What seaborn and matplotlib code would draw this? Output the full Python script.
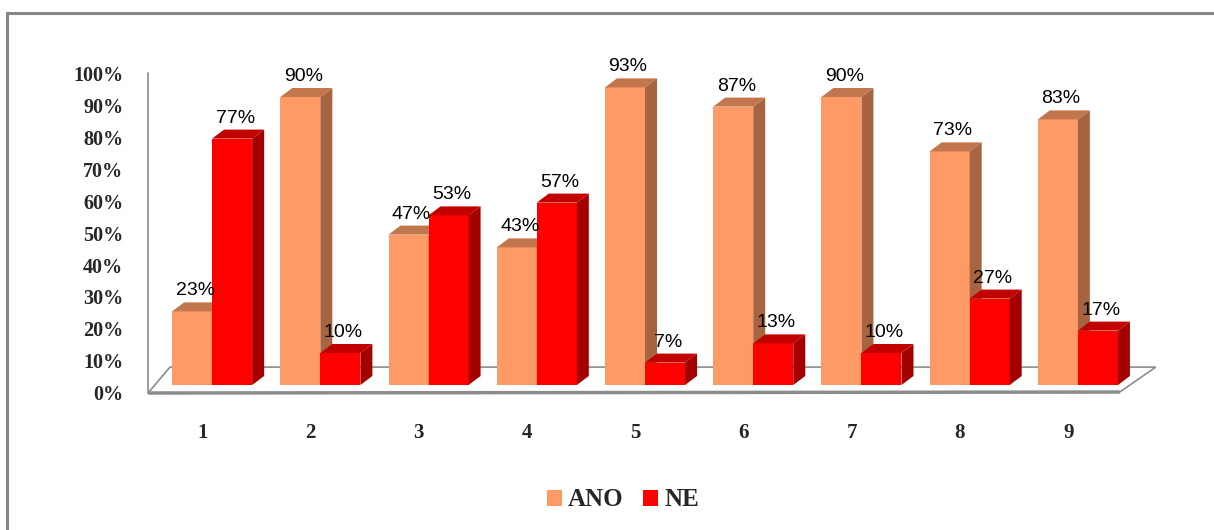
import pandas as pd
import numpy as np
import matplotlib.pyplot as plt
import seaborn as sns
from matplotlib.patches import Polygon, Patch
from matplotlib.lines import Line2D

# Chart data
categories = ['1', '2', '3', '4', '5', '6', '7', '8', '9']
ano = [0.23, 0.90, 0.47, 0.43, 0.93, 0.87, 0.90, 0.73, 0.83]
ne = [0.77, 0.10, 0.53, 0.57, 0.07, 0.13, 0.10, 0.27, 0.17]
series = ['ANO', 'NE']
ytick_labels = ['0%', '10%', '20%', '30%', '40%', '50%', '60%', '70%', '80%', '90%', '100%']

# colours: front, side, top
front = {'ANO': '#FF9966', 'NE': '#FF0000'}
side = {'ANO': '#A66540', 'NE': '#A50000'}
top = {'ANO': '#C2764E', 'NE': '#C20000'}

sns.set_theme(style="white")
plt.rcParams['font.family'] = ['Liberation Serif', 'DejaVu Serif']

df = pd.DataFrame({
    'cat': categories * 2,
    'val': ano + ne,
    'grp': ['ANO'] * len(categories) + ['NE'] * len(categories),
})

W, H = 1214, 530
fig = plt.figure(figsize=(W / 100, H / 100), dpi=100)
ax = fig.add_axes([158 / W, 113 / H, 974 / W, 368 / H])

sns.barplot(data=df, x='cat', y='val', hue='grp', order=categories,
            hue_order=series, palette=[front[s] for s in series],
            width=0.74, gap=0, saturation=1, legend=False, ax=ax)

ax.set_xlim(-0.5, 8.5)
ax.set_ylim(-0.1, 1.05)
for sp in ax.spines.values():
    sp.set_visible(False)

# depth of the 3D effect in data units
dx = 12 / 108.25
dy = 9 / 320

for k, (s, cont) in enumerate(zip(series, ax.containers)):
    for bar in cont:
        x0 = bar.get_x()
        w = bar.get_width()
        h = bar.get_height()
        z = 2 + k
        bar.set_zorder(z)
        bar.set_edgecolor('none')
        sd = Polygon([(x0 + w, 0), (x0 + w + dx, dy), (x0 + w + dx, h + dy), (x0 + w, h)],
                     closed=True, facecolor=side[s], edgecolor='none', zorder=z + 0.1)
        tp = Polygon([(x0, h), (x0 + dx, h + dy), (x0 + w + dx, h + dy), (x0 + w, h)],
                     closed=True, facecolor=top[s], edgecolor='none', zorder=z + 0.1)
        ax.add_patch(sd)
        ax.add_patch(tp)
        ax.annotate(f'{round(h * 100)}%', (x0 + w / 2, h), xytext=(3, 16),
                    textcoords='offset pixels', ha='center', va='baseline',
                    fontsize=14, family=['Liberation Sans', 'DejaVu Sans'],
                    color='black', zorder=10)

# floor and vertical axis
floor = Polygon([(-0.592, -0.025), (8.387, -0.022), (8.72, 0.056), (-0.389, 0.056)],
                closed=True, facecolor='white', edgecolor='#8C8C8C', lw=1.2,
                zorder=1, clip_on=False)
ax.add_patch(floor)
ax.plot([-0.592, 8.387], [-0.025, -0.022], color='#8C8C8C', lw=2.5, zorder=1.5,
        clip_on=False, solid_capstyle='butt')
ax.plot([-0.592, -0.592], [-0.025, 0.975], color='#8C8C8C', lw=1.2, zorder=1.5,
        clip_on=False)

# ticks
ax.set_yticks(np.arange(0, 1.01, 0.1) - 0.025, labels=ytick_labels)
ax.tick_params(axis='y', length=0, pad=25, labelsize=14.5)
for lab in ax.get_yticklabels():
    lab.set_fontweight('bold')
ax.set_xticks([i - 0.09 for i in range(len(categories))], labels=categories)
ax.tick_params(axis='x', length=0, pad=4, labelsize=15)
for lab in ax.get_xticklabels():
    lab.set_fontweight('bold')
ax.set_xlabel('')
ax.set_ylabel('')
ax.grid(False)

# legend
handles = [Patch(facecolor=front[s], edgecolor='none') for s in series]
fig.legend(handles, series, loc='center', bbox_to_anchor=(623 / W, 1 - 500 / H),
           ncol=2, frameon=False, handlelength=0.6, handleheight=0.6,
           handletextpad=0.25, columnspacing=0.8,
           prop={'family': 'Liberation Serif', 'weight': 'bold', 'size': 18})

# chart border (top and left visible)
fig.add_artist(Line2D([7 / W, 1], [1 - 13 / H, 1 - 13 / H], color='#868686', lw=2.2,
                      transform=fig.transFigure))
fig.add_artist(Line2D([7 / W, 7 / W], [1 - 13 / H, 0], color='#868686', lw=2.2,
                      transform=fig.transFigure))

fig.savefig('out.png', dpi=100)
